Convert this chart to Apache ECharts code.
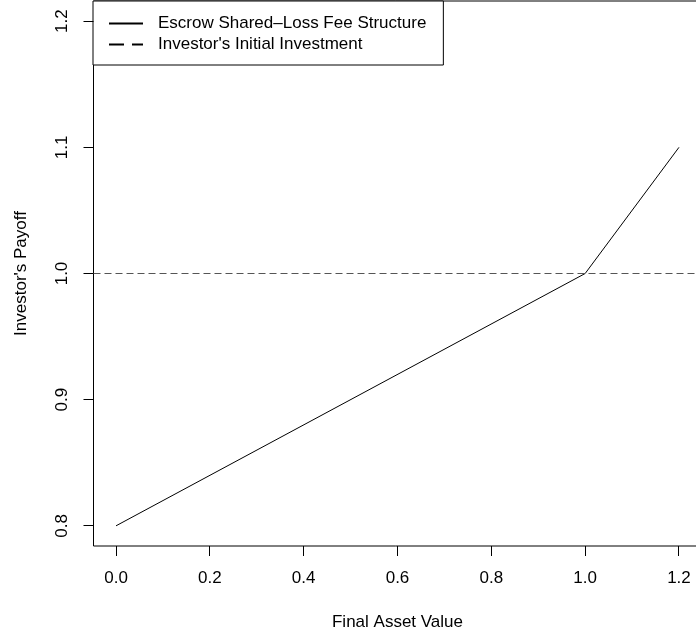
<!DOCTYPE html>
<html>
<head>
<meta charset="utf-8">
<script src="https://cdn.jsdelivr.net/npm/echarts@6/dist/echarts.min.js"></script>
<style>
  html, body { margin: 0; padding: 0; background: #fff; }
  #chart { width: 696px; height: 634px; }
</style>
</head>
<body>
<div id="chart"></div>
<script>
// Payoff curve: final asset value vs investor's payoff
const assetValues = [0.0, 1.0, 1.2];
const payoffValues = [0.8, 1.0, 1.1];
const initialInvestment = 1.0;

// Tick values
const xTicks = [0.0, 0.2, 0.4, 0.6, 0.8, 1.0, 1.2];
const yTicks = [0.8, 0.9, 1.0, 1.1, 1.2];
const xTickStep = 0.2, yTickStep = 0.1;

const xTickMin = xTicks[0], xTickMax = xTicks[xTicks.length - 1];
const yTickMin = yTicks[0], yTickMax = yTicks[yTicks.length - 1];

// Plot box (outer frame), axis ranges padded by 4% on each side
const box = { left: 93.5, top: 1, width: 608, height: 545 };
const xPad = (xTickMax - xTickMin) * 0.04;
const yPad = (yTickMax - yTickMin) * 0.04;
const xLo = xTickMin - xPad, xHi = xTickMax + xPad;
const yLo = yTickMin - yPad, yHi = yTickMax + yPad;

// Inner area spanning exactly the tick range, used to place tick labels
const xPadPx = box.width * xPad / (xHi - xLo);
const yPadPx = box.height * yPad / (yHi - yLo);
const inner = {
  left: box.left + xPadPx, top: box.top + yPadPx,
  width: box.width - 2 * xPadPx, height: box.height - 2 * yPadPx
};

const FONT = '"Liberation Sans", Arial, Helvetica, sans-serif';
const FS = 17;
const TICK_LEN = 10;
const chart = echarts.init(document.getElementById('chart'), null, { renderer: 'canvas' });

const labelAxis = (extra) => Object.assign({
  type: 'value',
  gridIndex: 1,
  nameLocation: 'middle',
  nameTextStyle: { fontFamily: FONT, fontSize: FS, color: '#000' },
  axisLine: { show: false, onZero: false },
  axisTick: { show: false },
  splitLine: { show: false }
}, extra);

chart.setOption({
  animation: false,
  backgroundColor: '#fff',
  textStyle: { fontFamily: FONT },
  grid: [
    Object.assign({ show: true, borderColor: '#000', borderWidth: 1, backgroundColor: 'transparent', outerBoundsMode: 'none', containLabel: false }, box),
    Object.assign({ show: false, outerBoundsMode: 'none', containLabel: false }, inner)
  ],
  legend: {
    left: 93, top: 1,
    orient: 'vertical',
    backgroundColor: '#fff',
    borderColor: '#000', borderWidth: 1,
    padding: [14, 17, 12, 15],
    itemWidth: 34, itemHeight: 14, itemGap: 4,
    itemStyle: { opacity: 0 },
    textStyle: { fontFamily: FONT, fontSize: FS, color: '#000', padding: [0, 0, 0, 10] },
    data: [
      { name: 'Escrow Shared–Loss Fee Structure', lineStyle: { color: '#000', width: 2, type: 'solid' } },
      { name: "Investor's Initial Investment", lineStyle: { color: '#000', width: 2, type: [15, 8] } }
    ]
  },
  xAxis: [
    { type: 'value', gridIndex: 0, show: false, min: xLo, max: xHi },
    labelAxis({
      min: xTickMin, max: xTickMax, interval: xTickStep,
      offset: box.top + box.height - (inner.top + inner.height),
      name: 'Final Asset Value', nameGap: 68,
      axisLabel: { fontFamily: FONT, fontSize: FS, color: '#000', margin: 24, formatter: v => v.toFixed(1) }
    })
  ],
  yAxis: [
    { type: 'value', gridIndex: 0, show: false, min: yLo, max: yHi },
    labelAxis({
      min: yTickMin, max: yTickMax, interval: yTickStep,
      offset: inner.left - box.left,
      name: "Investor's Payoff", nameGap: 64,
      axisLabel: { fontFamily: FONT, fontSize: FS, color: '#000', margin: 23, rotate: 90, formatter: v => v.toFixed(1) }
    })
  ],
  series: [
    {
      name: 'Escrow Shared–Loss Fee Structure',
      type: 'line',
      xAxisIndex: 0, yAxisIndex: 0,
      symbol: 'none',
      data: assetValues.map((x, i) => [x, payoffValues[i]]),
      lineStyle: { color: '#000', width: 1 },
      itemStyle: { color: '#000' },
      z: 3
    },
    {
      name: "Investor's Initial Investment",
      type: 'line',
      xAxisIndex: 0, yAxisIndex: 0,
      symbol: 'none',
      data: [],
      lineStyle: { color: '#555', width: 1, type: [7, 4] },
      itemStyle: { color: '#555' },
      markLine: {
        silent: true,
        symbol: 'none',
        label: { show: false },
        lineStyle: { color: '#555', width: 1, type: [7, 4] },
        data: [{ yAxis: initialInvestment }]
      },
      z: 2
    }
  ]
});

// Outward tick marks on the bottom and left edges of the frame,
// placed through the axes' own value-to-pixel conversion
const crisp = v => Math.round(v - 0.5) + 0.5;
const finder = { xAxisIndex: 0, yAxisIndex: 0 };
const tickLines = [];
xTicks.forEach(v => {
  const p = chart.convertToPixel(finder, [v, yLo]);
  tickLines.push({
    type: 'line', silent: true, z: 100,
    shape: { x1: crisp(p[0]), y1: p[1], x2: crisp(p[0]), y2: p[1] + TICK_LEN },
    style: { stroke: '#000', lineWidth: 1 }
  });
});
yTicks.forEach(v => {
  const p = chart.convertToPixel(finder, [xLo, v]);
  tickLines.push({
    type: 'line', silent: true, z: 100,
    shape: { x1: p[0], y1: crisp(p[1]), x2: p[0] - TICK_LEN, y2: crisp(p[1]) },
    style: { stroke: '#000', lineWidth: 1 }
  });
});
chart.setOption({ graphic: tickLines });
</script>
</body>
</html>
